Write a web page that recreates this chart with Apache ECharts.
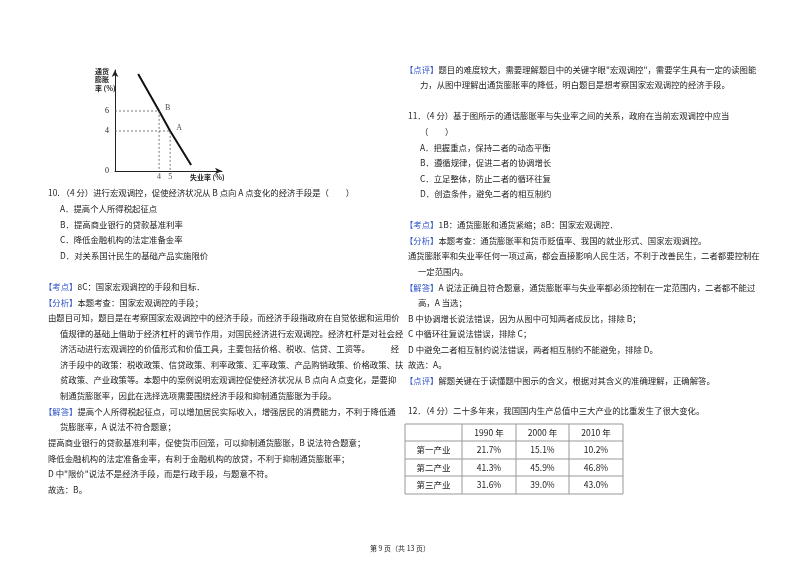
<!DOCTYPE html>
<html>
<head>
<meta charset="utf-8">
<script src="https://cdn.jsdelivr.net/npm/echarts@6/dist/echarts.min.js"></script>
<style>html,body{margin:0;padding:0;background:#fff}#main{width:800px;height:565px}</style>
</head>
<body>
<div id="main"></div>
<script>
// curve of the little figure (unemployment %, inflation %)
var curveData = [[2.1, 9.7], [4, 6], [5, 4], [6.9, 0.6]];
var pointB = [4, 6];
var pointA = [5, 4];
var xTicks = [4, 5];
var yTicks = [0, 4, 6];

// table of question 12
var tableYears = ['1990 年', '2000 年', '2010 年'];
var tableRows = ['第一产业', '第二产业', '第三产业'];
var tableValues = [
    ['21.7%', '15.1%', '10.2%'],
    ['41.3%', '45.9%', '46.8%'],
    ['31.6%', '39.0%', '43.0%']
];

// text lines: [x, y, text]
var leftLines = [
    [48, 195, '10. （4 分）进行宏观调控，促使经济状况从 B 点向 A 点变化的经济手段是（　　）'],
    [60, 211, 'A．提高个人所得税起征点'],
    [60, 227, 'B．提高商业银行的贷款基准利率'],
    [60, 242, 'C．降低金融机构的法定准备金率'],
    [60, 258, 'D．对关系国计民生的基础产品实施限价'],
    [44, 289, '{b|【考点】}8C：国家宏观调控的手段和目标．'],
    [44, 305, '{b|【分析】}本题考查：国家宏观调控的手段；'],
    [48, 320, '由题目可知，题目是在考察国家宏观调控中的经济手段，而经济手段指政府在自觉依据和运用价'],
    [60, 336, '值规律的基础上借助于经济杠杆的调节作用，对国民经济进行宏观调控。经济杠杆是对社会经'],
    [60, 351, '济活动进行宏观调控的价值形式和价值工具，主要包括价格、税收、信贷、工资等。　　　经'],
    [60, 367, '济手段中的政策：税收政策、信贷政策、利率政策、汇率政策、产品购销政策、价格政策、扶'],
    [60, 382, '贫政策、产业政策等。本题中的案例说明宏观调控促使经济状况从 B 点向 A 点变化，是要抑'],
    [60, 398, '制通货膨胀率，因此在选择选项需要围绕经济手段和抑制通货膨胀为手段。'],
    [44, 414, '{b|【解答】}提高个人所得税起征点，可以增加居民实际收入，增强居民的消费能力，不利于降低通'],
    [60, 429, '货膨胀率，A 说法不符合题意；'],
    [48, 445, '提高商业银行的贷款基准利率，促使货币回笼，可以抑制通货膨胀，B 说法符合题意；'],
    [48, 461, '降低金融机构的法定准备金率，有利于金融机构的放贷，不利于抑制通货膨胀率；'],
    [48, 476, 'D 中"限价"说法不是经济手段，而是行政手段，与题意不符。'],
    [48, 492, '故选：B。']
];
var rightLines = [
    [405, 72, '{b|【点评】}题目的难度较大，需要理解题目中的关键字眼"宏观调控"，需要学生具有一定的读图能'],
    [420, 87, '力，从图中理解出通货膨胀率的降低，明白题目是想考察国家宏观调控的经济手段。'],
    [408, 118, '11．（4 分）基于图所示的通话膨胀率与失业率之间的关系，政府在当前宏观调控中应当'],
    [420, 134, '（　　）'],
    [420, 150, 'A．把握重点，保持二者的动态平衡'],
    [420, 165, 'B．遵循规律，促进二者的协调增长'],
    [420, 181, 'C．立足整体，防止二者的循环往复'],
    [420, 196, 'D．创造条件，避免二者的相互制约'],
    [405, 227, '{b|【考点】}1B：通货膨胀和通货紧缩；8B：国家宏观调控．'],
    [405, 243, '{b|【分析】}本题考查：通货膨胀率和货币贬值率、我国的就业形式、国家宏观调控。'],
    [408, 258, '通货膨胀率和失业率任何一项过高，都会直接影响人民生活，不利于改善民生，二者都要控制在'],
    [418, 274, '一定范围内。'],
    [405, 290, '{b|【解答】}A 说法正确且符合题意，通货膨胀率与失业率都必须控制在一定范围内，二者都不能过'],
    [418, 305, '高，A 当选；'],
    [408, 321, 'B 中协调增长说法错误，因为从图中可知两者成反比，排除 B；'],
    [408, 336, 'C 中循环往复说法错误，排除 C；'],
    [408, 352, 'D 中避免二者相互制约说法错误，两者相互制约不能避免，排除 D。'],
    [408, 367, '故选：A。'],
    [405, 383, '{b|【点评】}解题关键在于读懂题中图示的含义，根据对其含义的准确理解，正确解答。'],
    [408, 413, '12．（4 分）二十多年来，我国国内生产总值中三大产业的比重发生了很大变化。']
];

var FONT = '"Noto Sans CJK SC", sans-serif';
var TEXT_FONT = '8.4px ' + FONT;
var graphics = [];

function addLine(item) {
    graphics.push({
        type: 'text', left: item[0], top: item[1] - 6,
        style: {
            text: item[2], fill: '#222', font: TEXT_FONT,
            rich: { b: { fill: '#2f54c8', font: TEXT_FONT } }
        }
    });
}
leftLines.forEach(addLine);
rightLines.forEach(addLine);

// table
var colX = [405, 462, 516, 569, 623];
var rowY = [424, 441, 459, 476, 494];
for (var r = 0; r < rowY.length; r++) {
    graphics.push({ type: 'line', shape: { x1: colX[0], y1: rowY[r], x2: colX[4], y2: rowY[r] }, style: { stroke: '#999', lineWidth: 1 } });
}
for (var c = 0; c < colX.length; c++) {
    graphics.push({ type: 'line', shape: { x1: colX[c], y1: rowY[0], x2: colX[c], y2: rowY[4] }, style: { stroke: '#999', lineWidth: 1 } });
}
function cell(col, row, txt) {
    graphics.push({
        type: 'text', x: (colX[col] + colX[col + 1]) / 2, y: (rowY[row] + rowY[row + 1]) / 2,
        style: { text: txt, fill: '#222', font: '8.5px ' + FONT, align: 'center', verticalAlign: 'middle' }
    });
}
tableYears.forEach(function (t, i) { cell(i + 1, 0, t); });
tableRows.forEach(function (t, i) {
    cell(0, i + 1, t);
    tableValues[i].forEach(function (v, j) { cell(j + 1, i + 1, v); });
});

// footer
graphics.push({
    type: 'text', x: 400, y: 548,
    style: { text: '第 9 页（共 13 页）', fill: '#222', font: '7px ' + FONT, align: 'center', verticalAlign: 'middle' }
});

// chart labels
graphics.push({ type: 'text', left: 95, top: 67, style: { text: '通货\n膨胀\n率 (%)', fill: '#222', font: 'bold 7px ' + FONT, lineHeight: 8.5 } });
graphics.push({ type: 'text', left: 190, top: 174, style: { text: '失业率 (%)', fill: '#222', font: 'bold 7px ' + FONT } });

var chart = echarts.init(document.getElementById('main'));
var option = {
    backgroundColor: '#fff',
    animation: false,
    grid: { left: 115, top: 70, width: 107, height: 101 },
    xAxis: {
        type: 'value', min: 0, max: 9.7,
        axisLine: { lineStyle: { color: '#222' }, symbol: ['none', 'arrow'], symbolSize: [5, 7] },
        axisTick: { show: false },
        splitLine: { show: false },
        axisLabel: { show: false }
    },
    yAxis: {
        type: 'value', min: 0, max: 10.1,
        axisLine: { show: true, lineStyle: { color: '#222' }, symbol: ['none', 'arrow'], symbolSize: [5, 7] },
        axisTick: { show: false },
        splitLine: { show: false },
        axisLabel: {
            customValues: yTicks, hideOverlap: false,
            fontSize: 8, color: '#222', margin: 6, fontFamily: 'serif'
        }
    },
    series: [
        {
            type: 'line', data: curveData, symbol: 'none',
            lineStyle: { color: '#111', width: 2 }
        },
        {
            type: 'line', data: [[0, pointB[1]], pointB, [pointB[0], 0]], symbol: 'none',
            lineStyle: { color: '#555', width: 0.8, type: [2, 2] }
        },
        {
            type: 'line', data: [[0, pointA[1]], pointA, [pointA[0], 0]], symbol: 'none',
            lineStyle: { color: '#555', width: 0.8, type: [2, 2] }
        },
        {
            type: 'scatter', symbolSize: 0,
            data: [{ value: pointB, name: 'B' }, { value: pointA, name: 'A' }],
            label: { show: true, formatter: '{b}', position: 'right', offset: [1, -3], fontSize: 8, color: '#222', fontFamily: 'serif' }
        },
        {
            // x tick labels
            type: 'scatter', symbolSize: 0, labelLayout: { hideOverlap: false },
            data: xTicks.map(function (v) { return [v, 0]; }),
            label: {
                show: true, position: 'bottom', distance: 2, fontSize: 8, color: '#222', fontFamily: 'serif',
                formatter: function (p) { return p.value[0]; }
            }
        }
    ],
    graphic: graphics
};
chart.setOption(option);
</script>
</body>
</html>
